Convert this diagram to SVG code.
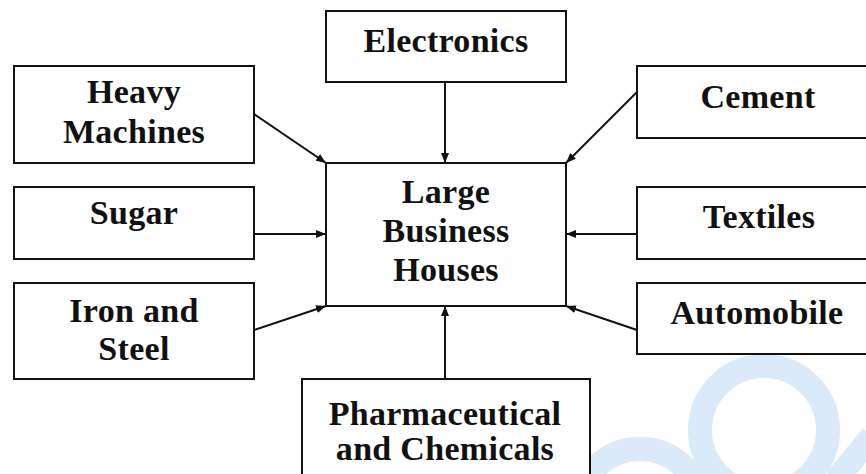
<svg xmlns="http://www.w3.org/2000/svg" width="866" height="474" viewBox="0 0 866 474">
<style>
  .box { fill: #ffffff; stroke: #111111; stroke-width: 2; }
  .lbl { font-family: "Liberation Serif", "DejaVu Serif", serif; font-weight: bold; font-size: 34px; letter-spacing: 0.3px; fill: #111111; text-anchor: middle; }
  .conn { stroke: #111111; stroke-width: 2; fill: none; marker-end: url(#arrow); }
  .wm { fill: none; stroke: #dbeaf9; }
</style>
<defs>
  <marker id="arrow" viewBox="0 0 10 8" markerWidth="10" markerHeight="8" refX="10" refY="4" orient="auto" markerUnits="userSpaceOnUse">
    <path d="M0,0 L10,4 L0,8 Z" fill="#111111"/>
  </marker>
</defs>
<rect width="866" height="474" fill="#ffffff"/>
<g id="watermark">
  <circle class="wm" cx="764" cy="430" r="64" stroke-width="24"/>
  <circle class="wm" cx="640" cy="512" r="63" stroke-width="24"/>
  <line class="wm" x1="872" y1="436" x2="836" y2="480" stroke-width="24"/>
</g>
<g id="connectors">
  <line class="conn" x1="445" y1="66" x2="445" y2="163"/>
  <line class="conn" x1="254" y1="114" x2="326" y2="163"/>
  <line class="conn" x1="637" y1="92" x2="566" y2="163"/>
  <line class="conn" x1="254" y1="234" x2="326" y2="234"/>
  <line class="conn" x1="637" y1="234" x2="566" y2="234"/>
  <line class="conn" x1="254" y1="330" x2="326" y2="306"/>
  <line class="conn" x1="637" y1="330" x2="566" y2="306"/>
  <line class="conn" x1="445" y1="379" x2="445" y2="306"/>
</g>
<g id="center">
  <rect class="box" x="326" y="163" width="240" height="143"/>
  <text class="lbl" x="446" y="203">Large</text>
  <text class="lbl" x="446" y="242">Business</text>
  <text class="lbl" x="446" y="281">Houses</text>
</g>
<g id="electronics">
  <rect class="box" x="326" y="11" width="240" height="71"/>
  <text class="lbl" x="446" y="52">Electronics</text>
</g>
<g id="heavy-machines">
  <rect class="box" x="14" y="66" width="240" height="97"/>
  <text class="lbl" x="134" y="103">Heavy</text>
  <text class="lbl" x="134" y="143">Machines</text>
</g>
<g id="sugar">
  <rect class="box" x="14" y="187" width="240" height="72"/>
  <text class="lbl" x="134" y="224">Sugar</text>
</g>
<g id="iron-steel">
  <rect class="box" x="14" y="283" width="240" height="96"/>
  <text class="lbl" x="134" y="322">Iron and</text>
  <text class="lbl" x="134" y="360">Steel</text>
</g>
<g id="cement">
  <rect class="box" x="637" y="66" width="240" height="72"/>
  <text class="lbl" x="758" y="108">Cement</text>
</g>
<g id="textiles">
  <rect class="box" x="637" y="187" width="240" height="72"/>
  <text class="lbl" x="759" y="228">Textiles</text>
</g>
<g id="automobile">
  <rect class="box" x="637" y="283" width="240" height="71"/>
  <text class="lbl" x="757" y="324">Automobile</text>
</g>
<g id="pharma">
  <rect class="box" x="302" y="379" width="288" height="100"/>
  <text class="lbl" x="445" y="425">Pharmaceutical</text>
  <text class="lbl" x="445" y="460">and Chemicals</text>
</g>
</svg>
